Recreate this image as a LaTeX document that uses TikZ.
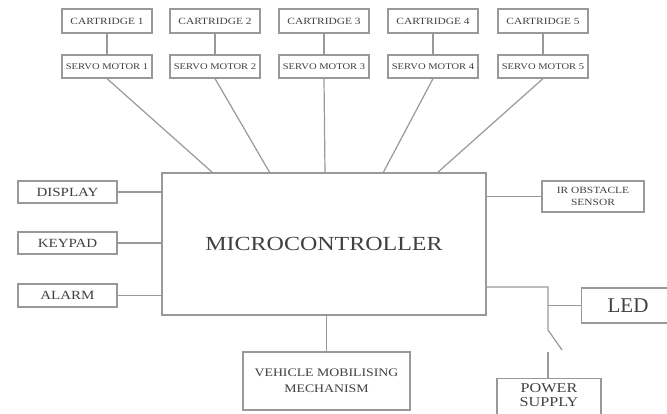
\documentclass[tikz,border=0pt]{standalone}
\usepackage{fontspec}
\setmainfont{Liberation Serif}
\newfontfamily\widefont[FakeStretch=1.2]{Liberation Serif}
\begin{document}
\begin{tikzpicture}[x=1pt,y=-1pt,
  ln/.style={draw=black!40,line width=1.2pt},
  box/.style={ln,fill=white,inner sep=1pt,align=center,text=black!75},
  small/.style={box,minimum width=90pt,minimum height=24pt},
  side/.style={box,minimum width=99pt,minimum height=22pt,font=\widefont\fontsize{12.5}{14}\selectfont}]
\useasboundingbox (0,0) rectangle (667,414);
\fill[white] (0,0) rectangle (667,414);
% cartridges and servos
\foreach \i/\x in {1/107,2/215,3/324,4/433,5/543}{
  \node[small,font=\widefont\fontsize{9.5}{10}\selectfont] (c\i) at (\x,21) {CARTRIDGE \i};
  \node[small,minimum height=23pt,font=\widefont\fontsize{8.8}{10}\selectfont] (s\i) at (\x,66.5) {SERVO MOTOR \i};
  \draw[ln] (c\i.south) -- (s\i.north);
}
% microcontroller
\node[box,minimum width=324pt,minimum height=142pt,font=\widefont\fontsize{20}{24}\selectfont] (mc) at (324,244) {MICROCONTROLLER};
\coordinate (m1) at (213,173);
\coordinate (m2) at (270,173);
\coordinate (m3) at (325,173);
\coordinate (m4) at (383,173);
\coordinate (m5) at (437,173);
\foreach \i in {1,...,5}{\draw[ln] (s\i.south) -- (m\i);}
% left side
\node[side] (disp) at (67.5,192) {DISPLAY};
\node[side] (key) at (67.5,243) {KEYPAD};
\node[side,minimum height=23pt] (alarm) at (67.5,295.5) {ALARM};
\draw[ln] (disp.east) -- (disp.east -| mc.west);
\draw[ln] (key.east) -- (key.east -| mc.west);
\draw[ln] (alarm.east) -- (alarm.east -| mc.west);
% IR sensor
\node[box,minimum width=102pt,minimum height=31pt,font=\widefont\fontsize{9.5}{12}\selectfont] (ir) at (593,196.5) {IR OBSTACLE\\SENSOR};
\draw[ln] (ir.west) -- (ir.west -| mc.east);
% vehicle
\node[box,minimum width=167pt,minimum height=58pt,font=\widefont\fontsize{11.5}{16}\selectfont] (veh) at (326.5,381) {VEHICLE MOBILISING\\MECHANISM};
\draw[ln] (veh.north) -- (veh.north |- mc.south);
% LED and power supply
\node[box,minimum width=100pt,minimum height=35pt,anchor=west] (led) at (581,305.5) {};
\node[text=black!75,font=\fontsize{21}{24}\selectfont,inner sep=0pt] (ledt) at (628,305.5) {LED};
\node[box,minimum width=104pt,minimum height=44pt,anchor=north] (pow) at (549,378) {};
\node[text=black!75,align=center,inner sep=0pt,font=\widefont\fontsize{13.5}{13.5}\selectfont] (powt) at (549,395) {POWER\\SUPPLY};
\coordinate (p0) at (486,287);
\coordinate (p1) at (548,287);
\coordinate (p2) at (548,330);
\coordinate (p3) at (562,350);
\coordinate (p4) at (548,352);
\coordinate (pj) at (548,305.5);
\draw[ln] (p0) -- (p1) -- (p2) -- (p3);
\draw[ln] (pj) -- (led.west);
\draw[ln] (pow.north -| p4) -- (p4);
\end{tikzpicture}
\end{document}
